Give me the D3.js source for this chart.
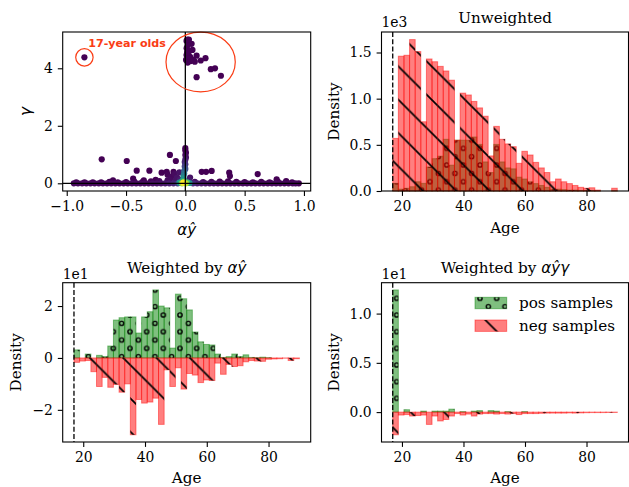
<html lang="en">
<head>
<meta charset="utf-8">
<title>Age density, positive vs negative samples</title>
<style>
  body { margin: 0; background-color: white; }
  svg { display: block; background-color: white; font-family: "DejaVu Serif", serif; }
  .axis text { font-family: "DejaVu Serif", serif; font-size: 13.9px; fill: black; }
  .axis line { stroke: black; stroke-width: 1.1; }
  .frame { fill: none; stroke: black; stroke-width: 1.1; }
  .label { font-size: 15.2px; fill: black; }
  .offset { font-size: 13.9px; fill: black; }
  .math { font-family: "DejaVu Sans", sans-serif; font-style: italic; }
</style>
</head>
<body>
<svg id="fig" width="629" height="487"></svg>
<script src="https://cdnjs.cloudflare.com/ajax/libs/d3/7.8.5/d3.min.js"></script>
<script>
// ---- data ----
var ageMin = 17, ageMax = 90, nBins = 40;

// unweighted densities (x 1e3)
var unwPos = [0.083, 0.02, 0.03, 0.046, 0.10, 0.083, 0.26, 0.35, 0.377, 0.56, 0.28, 0.55, 0.55, 0.55, 0.585, 0.505, 0.315, 0.20, 0.505, 0.315,
              0.25, 0.24, 0.15, 0.13, 0.10, 0.08, 0.06, 0.04, 0.02, 0.02, 0.015, 0.01, 0.01, 0.005, 0.005, 0.005, 0.003, 0.0, 0.0, 0.003];
var unwNeg = [0.57, 1.46, 1.47, 1.64, 1.51, 0.75, 1.43, 1.40, 1.35, 1.30, 1.20, 0.55, 1.06, 1.04, 0.97, 0.90, 0.81, 0.38, 0.70, 0.56,
              0.51, 0.48, 0.30, 0.43, 0.39, 0.31, 0.25, 0.20, 0.10, 0.13, 0.10, 0.08, 0.06, 0.04, 0.03, 0.035, 0.01, 0.0, 0.0, 0.03];

// weighted by alpha*yhat (x 1e1)
var wPos = [0.31, 0.0, 0.15, 0.0, 0.10, 0.05, 0.46, 1.46, 1.55, 1.58, 1.58, 0.96, 1.58, 1.78, 2.62, 2.0, 1.93, 0.38, 2.46, 2.28,
            1.85, 1.0, 0.62, 0.52, 0.50, 0.15, 0.02, 0.05, 0.15, 0.05, 0.12, 0.02, 0.01, 0.03, 0.01, 0.0, 0.0, 0.0, 0.0, 0.0];
var wNeg = [-0.17, -0.12, -0.10, -0.53, -1.10, -0.75, -1.13, -1.02, -1.32, -1.0, -2.96, -1.6, -1.74, -1.70, -1.55, -2.56, -0.46, -1.10, -0.38, -1.20,
            -0.60, -0.66, -0.95, -0.85, -0.87, -0.20, -0.63, -0.25, -0.33, -0.30, -0.15, -0.10, -0.12, -0.13, -0.05, -0.04, -0.03, -0.01, -0.10, -0.03];

// weighted by alpha*yhat*gamma (x 1e1)
var wgPos = [1.24, 0.0, 0.024, 0.0, 0.0, 0.01, 0.0, 0.01, 0.01, 0.01, 0.03, 0.0, 0.005, 0.0, 0.01, 0.015, 0.0, 0.015, 0.01, 0.0,
             0.005, 0.0, 0.0, 0.005, 0.0, 0.0, 0.0, 0.0, 0.0, 0.0, 0.0, 0.0, 0.0, 0.0, 0.0, 0.0, 0.0, 0.0, 0.0, 0.0];
var wgNeg = [-0.23, -0.03, -0.025, -0.04, -0.035, -0.03, -0.125, -0.04, -0.09, -0.075, -0.04, -0.015, -0.03, -0.02, -0.04, -0.02, -0.015, -0.015, -0.02, -0.015,
             -0.02, -0.015, -0.025, -0.015, -0.015, -0.015, -0.012, -0.01, -0.01, -0.01, -0.01, -0.008, -0.01, -0.008, -0.006, -0.005, -0.005, -0.005, -0.004, -0.004];

// scatter of alpha*yhat vs gamma: [x, y, density]
var scatterBand = [
  [-0.94,0,0.02],[-0.905,0,0.02],[-0.87,0,0.02],[-0.835,0,0.02],[-0.8,0,0.02],[-0.765,0,0.02],[-0.73,0,0.02],[-0.695,0,0.02],
  [-0.66,0,0.02],[-0.625,0,0.02],[-0.59,0,0.02],[-0.555,0,0.02],[-0.52,0,0.02],[-0.485,0,0.02],[-0.45,0,0.03],[-0.415,0,0.03],
  [-0.38,0,0.03],[-0.345,0,0.03],[-0.31,0,0.03],[-0.275,0,0.04],[-0.24,0,0.04],[-0.205,0,0.05],[-0.17,0,0.06],[-0.135,0,0.08],
  [-0.1,0,0.1],[-0.065,0,0.15],[0.065,0,0.12],[0.1,0,0.08],[0.135,0,0.06],[0.17,0,0.05],[0.205,0,0.04],[0.24,0,0.04],
  [0.275,0,0.03],[0.31,0,0.03],[0.345,0,0.03],[0.38,0,0.03],[0.415,0,0.03],[0.45,0,0.02],[0.485,0,0.02],[0.52,0,0.02],
  [0.555,0,0.02],[0.59,0,0.02],[0.625,0,0.02],[0.66,0,0.02],[0.695,0,0.02],[0.73,0,0.02],[0.765,0,0.02],[0.8,0,0.02],
  [0.835,0,0.02],[0.87,0,0.02],[0.905,0,0.02],[0.93,0,0.02],[0.957,0,0.0],
  [-0.92,0.035,0.0],[-0.85,0.035,0.0],[-0.78,0.035,0.0],[-0.71,0.035,0.0],[-0.64,0.05,0.0],[-0.57,0.035,0.0],[-0.5,0.04,0.0],
  [-0.43,0.06,0.0],[-0.36,0.05,0.0],[-0.29,0.07,0.01],[-0.22,0.08,0.02],[-0.15,0.1,0.03],[-0.08,0.12,0.05],[0.08,0.05,0.04],
  [0.15,0.04,0.02],[0.22,0.05,0.01],[0.29,0.06,0.0],[0.36,0.07,0.0],[0.43,0.05,0.0],[0.5,0.04,0.0],[0.57,0.035,0.0],
  [0.64,0.05,0.0],[0.71,0.035,0.0],[0.78,0.06,0.0],[0.85,0.035,0.0],[0.9,0.035,0.0]
];
var scatterScattered = [
  [-0.705,0.835,0],[-0.494,0.776,0],[-0.41,0.44,0],[-0.303,0.44,0],[-0.13,0.985,0],[-0.08,0.776,0],[-0.2,0.37,0],[-0.157,0.40,0],
  [-0.1,0.40,0],[0.138,0.40,0],[0.175,0.40,0],[0.222,0.43,0],[0.37,0.37,0],[0.376,0.25,0],[0.61,0.32,0],[0.77,0.14,0],
  [0.85,0.08,0],[-0.61,0.10,0],[-0.44,0.16,0],[-0.35,0.1,0],[-0.25,0.12,0],[-0.15,0.3,0.01],[-0.12,0.22,0.02],[-0.09,0.33,0.03],
  [-0.07,0.2,0.05],[-0.05,0.38,0.05],[-0.13,0.12,0.03],[-0.045,0.12,0.08],[0.03,0.1,0.08],[0.04,0.2,0.05]
];
var scatterColumn = [
  [0.0,1.22,0.0],[0.0,1.14,0.0],[0.005,1.06,0.0],[0.0,0.98,0.02],[0.005,0.9,0.04],[0.0,0.82,0.07],[-0.005,0.74,0.1],
  [0.0,0.66,0.14],[-0.005,0.58,0.18],[0.0,0.5,0.24],[-0.01,0.42,0.3],[-0.01,0.34,0.36],[-0.015,0.26,0.42],[-0.015,0.18,0.5]
];
var scatterCore = [
  [-0.05,0.02,0.5],[0.035,0.01,0.5],[-0.035,0.03,0.62],[0.015,0.03,0.68],[-0.025,0.08,0.6],[-0.01,0.05,0.78],
  [-0.028,0.0,0.85],[0.005,0.0,0.88],[-0.017,0.02,1.0]
];
var scatterTop = [
  [0.017,5.0,0],[0.025,4.93,0],[0.053,4.85,0],[0.011,4.70,0],[0.06,4.64,0],[0.01,4.46,0],[0.04,4.40,0],[0.006,4.29,0],
  [0.053,4.29,0],[0.095,4.44,0],[0.13,4.27,0],[0.17,4.35,0],[0.215,3.97,0],[0.25,4.0,0],[0.30,3.74,0],[0.095,3.69,0],
  [0.08,4.23,0],[0.02,4.8,0],[0.035,4.6,0],[0.015,4.55,0],[0.03,4.35,0],[0.02,4.2,0],[0.045,4.25,0],[0.065,4.3,0],
  [0.01,4.95,0],[0.03,5.0,0],[-0.851,4.38,0]
];
// annotation: ellipse round the cluster, circle round the lone 17-year old
var clusterEllipse = { x: 0.129, y: 4.22, rx: 0.292, ry: 1.04 };
var loneCircle = { x: -0.851, y: 4.38 };

// ---- layout (figure pixels) ----
var P = {
  sc:  { x0: 62.7,  x1: 310.7, y0: 32,    y1: 191 },
  unw: { x0: 381.5, x1: 628.5, y0: 32,    y1: 191 },
  w:   { x0: 62.7,  x1: 310.7, y0: 282.7, y1: 442 },
  wg:  { x0: 381.5, x1: 628.5, y0: 282.7, y1: 442 }
};
var green = "#008000", red = "#ff0000", annot = "#fa3c14";
var binW = (ageMax - ageMin) / nBins;

var fig = d3.select("#fig");

// hatch patterns anchored to the figure, like matplotlib's
var defs = fig.append("defs");
var dStep = 100 / 6;
var dots = defs.append("pattern").attr("id", "dots").attr("patternUnits", "userSpaceOnUse")
  .attr("x", 113.33).attr("y", 331.67).attr("width", dStep).attr("height", dStep);
[[0, 0], [dStep, 0], [0, dStep], [dStep, dStep], [dStep / 2, dStep / 2]].forEach(function(c) {
  dots.append("circle").attr("cx", c[0]).attr("cy", c[1]).attr("r", 2.1)
    .attr("fill", "none").attr("stroke", "black").attr("stroke-width", 1.4);
});
var hStep = 100 / 3;
defs.append("pattern").attr("id", "hatch").attr("patternUnits", "userSpaceOnUse")
  .attr("x", 232).attr("y", 0).attr("width", hStep).attr("height", hStep)
  .append("path")
  .attr("d", "M-2,-2L" + (hStep + 2) + "," + (hStep + 2) +
             "M" + (hStep - 2) + ",-2L" + (hStep + 2) + ",2" +
             "M-2," + (hStep - 2) + "L2," + (hStep + 2))
  .attr("stroke", "black").attr("stroke-width", 1.7).attr("fill", "none");

function padded(lo, hi) {
  var m = (hi - lo) * 0.05;
  return [lo - m, hi + m];
}

function drawHist(xs, ys, values, color, pattern) {
  var bars = values.map(function(v, i) { return { lo: ageMin + i * binW, v: v }; });
  var g = fig.append("g");
  g.selectAll("rect").data(bars).enter().append("rect")
    .attr("x", function(d) { return xs(d.lo); })
    .attr("width", function(d) { return xs(d.lo + binW) - xs(d.lo); })
    .attr("y", function(d) { return Math.min(ys(d.v), ys(0)); })
    .attr("height", function(d) { return Math.abs(ys(d.v) - ys(0)); })
    .attr("fill", color).attr("fill-opacity", 0.5)
    .attr("stroke", color).attr("stroke-opacity", 0.45).attr("stroke-width", 1);
  g.selectAll("rect.h").data(bars.filter(function(d) { return d.v !== 0; })).enter().append("rect")
    .attr("class", "h")
    .attr("x", function(d) { return xs(d.lo); })
    .attr("width", function(d) { return xs(d.lo + binW) - xs(d.lo); })
    .attr("y", function(d) { return Math.min(ys(d.v), ys(0)); })
    .attr("height", function(d) { return Math.abs(ys(d.v) - ys(0)); })
    .attr("fill", "url(#" + pattern + ")");
}

function axes(p, xs, ys, xticks, yticks, xfmt, yfmt) {
  fig.append("g").attr("class", "axis").attr("transform", "translate(0," + p.y1 + ")")
    .call(d3.axisBottom(xs).tickValues(xticks).tickFormat(xfmt).tickSize(4.9).tickSizeOuter(0).tickPadding(5.6))
    .call(function(g) { g.select(".domain").remove(); });
  fig.append("g").attr("class", "axis").attr("transform", "translate(" + p.x0 + ",0)")
    .call(d3.axisLeft(ys).tickValues(yticks).tickFormat(yfmt).tickSize(4.9).tickSizeOuter(0).tickPadding(4.9))
    .call(function(g) { g.select(".domain").remove(); });
}

function frame(p) {
  fig.append("rect").attr("class", "frame")
    .attr("x", p.x0).attr("y", p.y0).attr("width", p.x1 - p.x0).attr("height", p.y1 - p.y0);
}

function ageLine(p, xs) {
  fig.append("line").attr("x1", xs(ageMin)).attr("x2", xs(ageMin)).attr("y1", p.y0).attr("y2", p.y1)
    .attr("stroke", "black").attr("stroke-width", 1.3).attr("stroke-dasharray", "5,2.2");
}

function yLabel(x, p, txt) {
  fig.append("text").attr("class", "label")
    .attr("transform", "translate(" + x + "," + ((p.y0 + p.y1) / 2) + ") rotate(-90)")
    .attr("text-anchor", "middle").text(txt);
}

function xLabel(p, y, txt) {
  fig.append("text").attr("class", "label").attr("x", (p.x0 + p.x1) / 2).attr("y", y)
    .attr("text-anchor", "middle").text(txt);
}

function title(p, y, plain, math) {
  var t = fig.append("text").attr("class", "label").attr("x", (p.x0 + p.x1) / 2).attr("y", y)
    .attr("text-anchor", "middle").text(plain);
  if (math) t.append("tspan").attr("class", "math").text(math);
}

function offsetText(p, y, txt) {
  fig.append("text").attr("class", "offset").attr("x", p.x0).attr("y", y).text(txt);
}

// ---- panel 1: scatter ----
var sx = d3.scaleLinear().domain([-1.034, 1.057]).range([P.sc.x0, P.sc.x1]);
var sy = d3.scaleLinear().domain([-0.268, 5.262]).range([P.sc.y1, P.sc.y0]);

var pts = [].concat(scatterBand, scatterScattered, scatterColumn, scatterTop, scatterCore)
  .sort(function(a, b) { return a[2] - b[2]; });

fig.append("g").selectAll("circle").data(pts).enter().append("circle")
  .attr("cx", function(d) { return sx(d[0]); })
  .attr("cy", function(d) { return sy(d[1]); })
  .attr("r", 3.1)
  .attr("fill", function(d) { return d3.interpolateViridis(d[2]); });

fig.append("line").attr("x1", sx(0)).attr("x2", sx(0)).attr("y1", P.sc.y0).attr("y2", P.sc.y1)
  .attr("stroke", "black").attr("stroke-width", 1.3);
fig.append("line").attr("x1", P.sc.x0).attr("x2", P.sc.x1).attr("y1", sy(0)).attr("y2", sy(0))
  .attr("stroke", "black").attr("stroke-width", 1.3);

fig.append("ellipse")
  .attr("cx", sx(clusterEllipse.x)).attr("cy", sy(clusterEllipse.y))
  .attr("rx", sx(clusterEllipse.x + clusterEllipse.rx) - sx(clusterEllipse.x))
  .attr("ry", sy(clusterEllipse.y) - sy(clusterEllipse.y + clusterEllipse.ry))
  .attr("fill", "none").attr("stroke", annot).attr("stroke-width", 1.2);
fig.append("circle").attr("cx", sx(loneCircle.x)).attr("cy", sy(loneCircle.y)).attr("r", 8.7)
  .attr("fill", "none").attr("stroke", annot).attr("stroke-width", 1.2);
fig.append("text").attr("x", 88.3).attr("y", 46.5)
  .style("font-family", "'DejaVu Sans', sans-serif").style("font-weight", "bold").style("font-size", "11.1px")
  .attr("fill", annot).text("17-year olds");

axes(P.sc, sx, sy, [-1, -0.5, 0, 0.5, 1], [0, 2, 4], d3.format(".1f"), d3.format("d"));
frame(P.sc);
fig.append("text").attr("class", "label math")
  .attr("transform", "translate(30.5," + ((P.sc.y0 + P.sc.y1) / 2) + ") rotate(-90)")
  .attr("text-anchor", "middle").text("γ");
fig.append("text").attr("class", "label math").attr("x", (P.sc.x0 + P.sc.x1) / 2).attr("y", 235)
  .attr("text-anchor", "middle").text("αŷ");

// ---- panel 2: unweighted ----
var ax = d3.scaleLinear().domain(padded(ageMin, ageMax)).range([P.unw.x0, P.unw.x1]);
var uy = d3.scaleLinear().domain([0, d3.max(unwNeg) * 1.05]).range([P.unw.y1, P.unw.y0]);
drawHist(ax, uy, unwPos, green, "dots");
drawHist(ax, uy, unwNeg, red, "hatch");
ageLine(P.unw, ax);
axes(P.unw, ax, uy, [20, 40, 60, 80], [0, 0.5, 1, 1.5], d3.format("d"), d3.format(".1f"));
frame(P.unw);
title(P.unw, 22.5, "Unweighted");
offsetText(P.unw, 27, "1e3");
yLabel(338.7, P.unw, "Density");
xLabel(P.unw, 233, "Age");

// ---- panel 3: weighted by alpha*yhat ----
var bx = d3.scaleLinear().domain(padded(ageMin, ageMax)).range([P.w.x0, P.w.x1]);
var wy = d3.scaleLinear().domain(padded(d3.min(wNeg), d3.max(wPos))).range([P.w.y1, P.w.y0]);
drawHist(bx, wy, wPos, green, "dots");
drawHist(bx, wy, wNeg, red, "hatch");
ageLine(P.w, bx);
axes(P.w, bx, wy, [20, 40, 60, 80], [-2, 0, 2], d3.format("d"), d3.format("d"));
frame(P.w);
title(P.w, 272.5, "Weighted by ", "αŷ");
offsetText(P.w, 279, "1e1");
yLabel(20.5, P.w, "Density");
xLabel(P.w, 483, "Age");

// ---- panel 4: weighted by alpha*yhat*gamma ----
var cx = d3.scaleLinear().domain(padded(ageMin, ageMax)).range([P.wg.x0, P.wg.x1]);
var gy = d3.scaleLinear().domain(padded(d3.min(wgNeg), d3.max(wgPos))).range([P.wg.y1, P.wg.y0]);
drawHist(cx, gy, wgPos, green, "dots");
drawHist(cx, gy, wgNeg, red, "hatch");
ageLine(P.wg, cx);
axes(P.wg, cx, gy, [20, 40, 60, 80], [0, 0.5, 1], d3.format("d"), d3.format(".1f"));
frame(P.wg);
title(P.wg, 272.5, "Weighted by ", "αŷγ");
offsetText(P.wg, 279, "1e1");
yLabel(338.7, P.wg, "Density");
xLabel(P.wg, 483, "Age");

// legend
var legend = [
  { name: "pos samples", color: green, pattern: "dots", y: 297.3 },
  { name: "neg samples", color: red, pattern: "hatch", y: 320 }
];
legend.forEach(function(d) {
  fig.append("rect").attr("x", 475).attr("y", d.y).attr("width", 31.7).attr("height", 11.4)
    .attr("fill", d.color).attr("fill-opacity", 0.5)
    .attr("stroke", d.color).attr("stroke-opacity", 0.45);
  fig.append("rect").attr("x", 475).attr("y", d.y).attr("width", 31.7).attr("height", 11.4)
    .attr("fill", "url(#" + d.pattern + ")");
  fig.append("text").attr("class", "label").attr("x", 519).attr("y", d.y + 10.5).text(d.name);
});
</script>
</body>
</html>
